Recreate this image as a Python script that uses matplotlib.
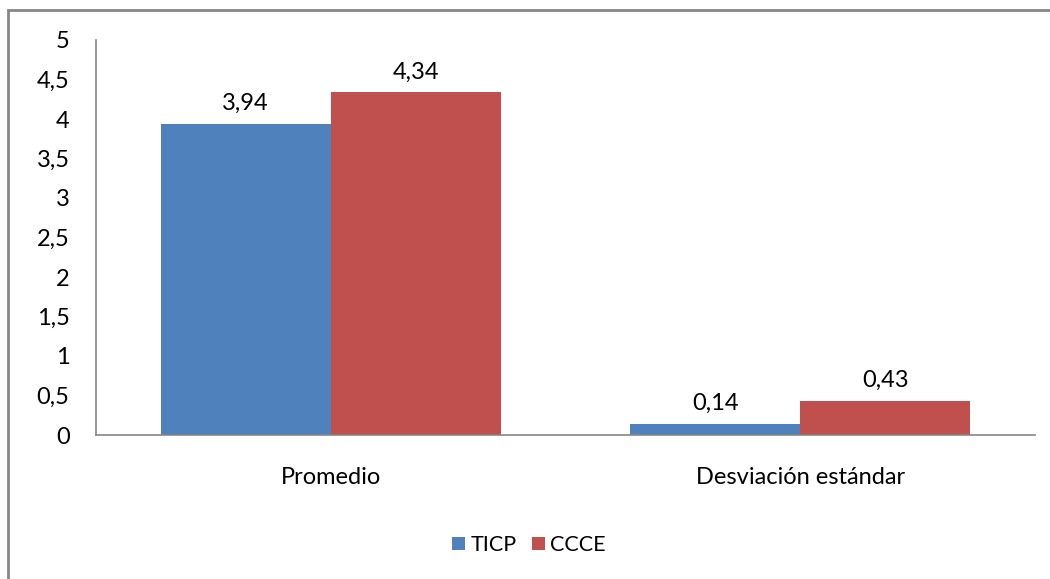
import matplotlib
matplotlib.use("Agg")
import matplotlib.pyplot as plt
from matplotlib.patches import Rectangle
import numpy as np

categories = ["Promedio", "Desviación estándar"]
series_names = ["TICP", "CCCE"]
ticp_values = [3.94, 0.14]
ccce_values = [4.34, 0.43]
colors = ["#4F81BD", "#C0504D"]
y_ticks = [0, 0.5, 1, 1.5, 2, 2.5, 3, 3.5, 4, 4.5, 5]


def comma(v):
    return f"{v:g}".replace(".", ",")


plt.rcParams["font.family"] = ["Lato", "DejaVu Sans"]
FS = 17

fig = plt.figure(figsize=(10.5, 5.79), dpi=100)
ax = fig.add_axes([96 / 1050, 1 - 435 / 579, (1035 - 96) / 1050, (435 - 40) / 579])

x = np.arange(len(categories))
width = 171 / 472
for i, (name, vals) in enumerate(zip(series_names, [ticp_values, ccce_values])):
    pos = x + (i - 0.5) * width
    bars = ax.bar(pos, vals, width, color=colors[i], label=name, zorder=2)
    for b, v in zip(bars, vals):
        ax.annotate(comma(v), (b.get_x() + b.get_width() / 2, v), xytext=(0, 7),
                    textcoords="offset points", ha="center", va="bottom", fontsize=FS)

ax.set_xlim(-0.5, len(categories) - 0.5)
ax.set_ylim(0, 5)
ax.set_yticks(y_ticks)
ax.set_yticklabels([comma(v) for v in y_ticks])
ax.set_xticks(x)
ax.set_xticklabels(categories)
ax.tick_params(axis="both", length=0, labelsize=FS)
ax.tick_params(axis="x", pad=23)
ax.tick_params(axis="y", pad=19)
for side in ["top", "right"]:
    ax.spines[side].set_visible(False)
for side in ["left", "bottom"]:
    ax.spines[side].set_color("#868686")
    ax.spines[side].set_linewidth(1.2)

fig.legend(loc="center", bbox_to_anchor=(529 / 1050, 1 - 545 / 579), ncol=2, frameon=False,
           fontsize=15.5, handlelength=0.6, handleheight=0.6, handletextpad=0.25, columnspacing=0.7)

fig.patches.append(Rectangle((8 / 1050, -0.1), 1.2, 1.1 - 10 / 579, transform=fig.transFigure,
                             fill=False, edgecolor="#868686", linewidth=2))

fig.savefig("out.png", dpi=100)
